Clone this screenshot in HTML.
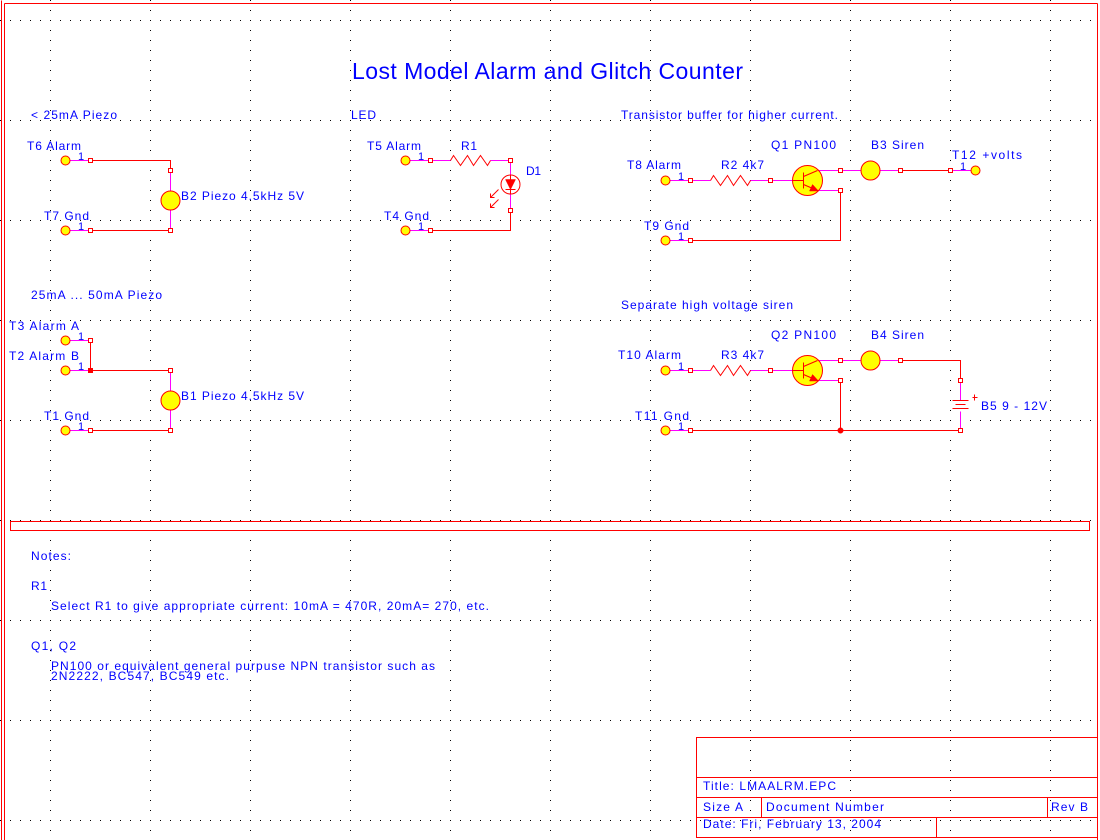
<!DOCTYPE html>
<html>
<head>
<meta charset="utf-8">
<style>
html,body{margin:0;padding:0;background:#fff;width:1100px;height:840px;overflow:hidden}
svg{display:block}
text{font-family:"Liberation Sans",Arial,sans-serif;font-size:12px;fill:#0000ff}
</style>
</head>
<body>
<svg width="1100" height="840" viewBox="0 0 1100 840" xmlns="http://www.w3.org/2000/svg">
<defs>
<pattern id="pr" width="10" height="100" patternUnits="userSpaceOnUse"><rect x="0" y="20" width="1" height="1" fill="#000"/></pattern>
<pattern id="pc" width="100" height="10" patternUnits="userSpaceOnUse"><rect x="50" y="0" width="1" height="1" fill="#000"/></pattern>
</defs>
<rect x="0" y="0" width="1100" height="840" fill="#fff"/>
<rect x="0" y="0" width="1100" height="840" fill="url(#pr)" shape-rendering="crispEdges"/>
<rect x="0" y="0" width="1100" height="840" fill="url(#pc)" shape-rendering="crispEdges"/>

<g transform="translate(0.5,0.5)" fill="none" stroke-width="1">
<!-- border -->
<g stroke="#ff0000" shape-rendering="crispEdges">
<line x1="1" y1="0" x2="1" y2="840"/>
<line x1="4" y1="3" x2="4" y2="840"/>
<line x1="4" y1="3" x2="1097" y2="3"/>
<line x1="1097" y1="3" x2="1097" y2="840"/>
<!-- separator -->
<rect x="10" y="521" width="1079" height="9"/>
<!-- title block -->
<rect x="696" y="737" width="401" height="100"/>
<line x1="696" y1="777" x2="1097" y2="777"/>
<line x1="696" y1="797" x2="1097" y2="797"/>
<line x1="696" y1="817" x2="1097" y2="817"/>
<line x1="761" y1="797" x2="761" y2="817"/>
<line x1="1047" y1="797" x2="1047" y2="817"/>
<line x1="936" y1="817" x2="936" y2="837"/>
</g>

<!-- ============ Section 1 ============ -->
<g shape-rendering="crispEdges">
<line x1="65" y1="160" x2="90" y2="160" stroke="#ff00ff"/>
<path d="M90,160 H170 V170" stroke="#ff0000"/>
<line x1="170" y1="170" x2="170" y2="230" stroke="#ff00ff"/>
<path d="M170,230 H90" stroke="#ff0000"/>
<line x1="65" y1="230" x2="90" y2="230" stroke="#ff00ff"/>
<g stroke="#ff0000" fill="#fff">
<rect x="88" y="158" width="4" height="4"/>
<rect x="168" y="168" width="4" height="4"/>
<rect x="168" y="228" width="4" height="4"/>
<rect x="88" y="228" width="4" height="4"/>
</g>
</g>
<circle cx="170" cy="200" r="9.5" fill="#ffff00" stroke="#ff0000"/>
<circle cx="65" cy="160" r="4.5" fill="#ffff00" stroke="#ff0000"/>
<circle cx="65" cy="230" r="4.5" fill="#ffff00" stroke="#ff0000"/>

<!-- ============ Section 2 LED ============ -->
<g shape-rendering="crispEdges">
<line x1="405" y1="160" x2="450" y2="160" stroke="#ff00ff"/>
<line x1="490" y1="160" x2="510" y2="160" stroke="#ff00ff"/>
<line x1="510" y1="160" x2="510" y2="210" stroke="#ff00ff"/>
<path d="M510,210 V230 H430" stroke="#ff0000"/>
<line x1="405" y1="230" x2="430" y2="230" stroke="#ff00ff"/>
</g>
<polyline points="450,160 453,155 460,165 467,155 473,165 480,155 487,165 490,160" stroke="#ff0000"/>
<circle cx="510" cy="184" r="9.5" fill="#fff" stroke="#ff0000"/>
<line x1="510" y1="174" x2="510" y2="194" stroke="#ff0000"/>
<polygon points="505,179 515,179 510,189" fill="#ff0000" stroke="#ff0000" stroke-width="0.5"/>
<line x1="505" y1="189" x2="515" y2="189" stroke="#ff0000"/>
<g stroke="#ff0000">
<line x1="498" y1="189" x2="490" y2="197"/>
<polyline points="490,193 490,197 494,197"/>
<line x1="498" y1="199" x2="490" y2="207"/>
<polyline points="490,203 490,207 494,207"/>
</g>
<g stroke="#ff0000" fill="#fff" shape-rendering="crispEdges">
<rect x="428" y="158" width="4" height="4"/>
<rect x="508" y="158" width="4" height="4"/>
<rect x="508" y="208" width="4" height="4"/>
<rect x="428" y="228" width="4" height="4"/>
</g>
<circle cx="405" cy="160" r="4.5" fill="#ffff00" stroke="#ff0000"/>
<circle cx="405" cy="230" r="4.5" fill="#ffff00" stroke="#ff0000"/>

<!-- ============ Section 3 Transistor buffer ============ -->
<g shape-rendering="crispEdges">
<line x1="665" y1="180" x2="710" y2="180" stroke="#ff00ff"/>
<line x1="750" y1="180" x2="792" y2="180" stroke="#ff00ff"/>
<line x1="817" y1="170" x2="900" y2="170" stroke="#ff00ff"/>
<line x1="817" y1="190" x2="840" y2="190" stroke="#ff00ff"/>
<line x1="900" y1="170" x2="950" y2="170" stroke="#ff0000"/>
<line x1="950" y1="170" x2="975" y2="170" stroke="#ff00ff"/>
<path d="M840,190 V240 H690" stroke="#ff0000"/>
<line x1="665" y1="240" x2="690" y2="240" stroke="#ff00ff"/>
</g>
<polyline points="710,180 713,175 720,185 727,175 733,185 740,175 747,185 750,180" stroke="#ff0000"/>
<circle cx="807" cy="180" r="15" fill="#ffff00" stroke="#ff0000"/>
<g stroke="#ff0000">
<line x1="792" y1="180" x2="803" y2="180"/>
<line x1="803" y1="172" x2="803" y2="188"/>
<line x1="803" y1="176" x2="817" y2="170"/>
<line x1="803" y1="184" x2="817" y2="190"/>
</g>
<polygon points="818,190.5 809,190.5 812,184" fill="#ff0000" stroke="#ff0000" stroke-width="0.5"/>
<circle cx="870" cy="170" r="9.5" fill="#ffff00" stroke="#ff0000"/>
<g stroke="#ff0000" fill="#fff" shape-rendering="crispEdges">
<rect x="688" y="178" width="4" height="4"/>
<rect x="768" y="178" width="4" height="4"/>
<rect x="838" y="168" width="4" height="4"/>
<rect x="838" y="188" width="4" height="4"/>
<rect x="898" y="168" width="4" height="4"/>
<rect x="948" y="168" width="4" height="4"/>
<rect x="688" y="238" width="4" height="4"/>
</g>
<circle cx="665" cy="180" r="4.5" fill="#ffff00" stroke="#ff0000"/>
<circle cx="975" cy="170" r="4.5" fill="#ffff00" stroke="#ff0000"/>
<circle cx="665" cy="240" r="4.5" fill="#ffff00" stroke="#ff0000"/>

<!-- ============ Section 4 ============ -->
<g shape-rendering="crispEdges">
<line x1="65" y1="340" x2="90" y2="340" stroke="#ff00ff"/>
<line x1="65" y1="370" x2="90" y2="370" stroke="#ff00ff"/>
<line x1="90" y1="340" x2="90" y2="370" stroke="#ff0000"/>
<path d="M90,370 H170" stroke="#ff0000"/>
<line x1="170" y1="370" x2="170" y2="430" stroke="#ff00ff"/>
<path d="M170,430 H90" stroke="#ff0000"/>
<line x1="65" y1="430" x2="90" y2="430" stroke="#ff00ff"/>
<g stroke="#ff0000" fill="#fff">
<rect x="88" y="338" width="4" height="4"/>
<rect x="88" y="368" width="4" height="4" fill="#ff0000"/>
<rect x="168" y="368" width="4" height="4"/>
<rect x="168" y="428" width="4" height="4"/>
<rect x="88" y="428" width="4" height="4"/>
</g>
</g>
<circle cx="170" cy="400" r="9.5" fill="#ffff00" stroke="#ff0000"/>
<circle cx="65" cy="340" r="4.5" fill="#ffff00" stroke="#ff0000"/>
<circle cx="65" cy="370" r="4.5" fill="#ffff00" stroke="#ff0000"/>
<circle cx="65" cy="430" r="4.5" fill="#ffff00" stroke="#ff0000"/>

<!-- ============ Section 5 ============ -->
<g shape-rendering="crispEdges">
<line x1="665" y1="370" x2="710" y2="370" stroke="#ff00ff"/>
<line x1="750" y1="370" x2="792" y2="370" stroke="#ff00ff"/>
<line x1="817" y1="360" x2="900" y2="360" stroke="#ff00ff"/>
<line x1="817" y1="380" x2="840" y2="380" stroke="#ff00ff"/>
<path d="M900,360 H960 V380" stroke="#ff0000"/>
<line x1="960" y1="380" x2="960" y2="400" stroke="#ff00ff"/>
<line x1="952" y1="400" x2="968" y2="400" stroke="#ff0000"/>
<line x1="955" y1="404" x2="965" y2="404" stroke="#ff0000"/>
<line x1="952" y1="408" x2="968" y2="408" stroke="#ff0000"/>
<line x1="960" y1="411" x2="960" y2="430" stroke="#ff00ff"/>
<line x1="972" y1="397" x2="977" y2="397" stroke="#ff0000"/>
<line x1="974" y1="394" x2="974" y2="400" stroke="#ff0000"/>
<path d="M840,380 V430" stroke="#ff0000"/>
<path d="M690,430 H960" stroke="#ff0000"/>
<line x1="665" y1="430" x2="690" y2="430" stroke="#ff00ff"/>
</g>
<polyline points="710,370 713,365 720,375 727,365 733,375 740,365 747,375 750,370" stroke="#ff0000"/>
<circle cx="807" cy="370" r="15" fill="#ffff00" stroke="#ff0000"/>
<g stroke="#ff0000">
<line x1="792" y1="370" x2="803" y2="370"/>
<line x1="803" y1="362" x2="803" y2="378"/>
<line x1="803" y1="366" x2="817" y2="360"/>
<line x1="803" y1="374" x2="817" y2="380"/>
</g>
<polygon points="818,380.5 809,380.5 812,374" fill="#ff0000" stroke="#ff0000" stroke-width="0.5"/>
<circle cx="870" cy="360" r="9.5" fill="#ffff00" stroke="#ff0000"/>
<circle cx="840" cy="430" r="2.5" fill="#ff0000" stroke="#ff0000"/>
<g stroke="#ff0000" fill="#fff" shape-rendering="crispEdges">
<rect x="688" y="368" width="4" height="4"/>
<rect x="768" y="368" width="4" height="4"/>
<rect x="838" y="358" width="4" height="4"/>
<rect x="838" y="378" width="4" height="4"/>
<rect x="898" y="358" width="4" height="4"/>
<rect x="958" y="378" width="4" height="4"/>
<rect x="958" y="428" width="4" height="4"/>
<rect x="688" y="428" width="4" height="4"/>
</g>
<circle cx="665" cy="370" r="4.5" fill="#ffff00" stroke="#ff0000"/>
<circle cx="665" cy="430" r="4.5" fill="#ffff00" stroke="#ff0000"/>
</g>

<!-- ============ Text ============ -->
<text x="352" y="79" style="font-size:23px" textLength="391">Lost Model Alarm and Glitch Counter</text>

<text x="31" y="119" textLength="86">&lt; 25mA Piezo</text>
<text x="27" y="150" textLength="54">T6 Alarm</text>
<text x="78" y="160" style="font-size:11px">1</text>
<text x="181" y="200" textLength="123">B2 Piezo 4.5kHz 5V</text>
<text x="44" y="220" textLength="45">T7 Gnd</text>
<text x="78" y="230" style="font-size:11px">1</text>

<text x="351" y="119" textLength="25">LED</text>
<text x="367" y="150" textLength="54">T5 Alarm</text>
<text x="418" y="160" style="font-size:11px">1</text>
<text x="461" y="150" textLength="16">R1</text>
<text x="526" y="175" textLength="15">D1</text>
<text x="384" y="220" textLength="45">T4 Gnd</text>
<text x="418" y="230" style="font-size:11px">1</text>

<text x="621" y="119" textLength="217">Transistor buffer for higher current.</text>
<text x="627" y="169" textLength="54">T8 Alarm</text>
<text x="678" y="180" style="font-size:11px">1</text>
<text x="721" y="169" textLength="43">R2 4k7</text>
<text x="771" y="149" textLength="65">Q1 PN100</text>
<text x="871" y="149" textLength="53">B3 Siren</text>
<text x="952" y="159" textLength="70">T12 +volts</text>
<text x="960" y="170" style="font-size:11px">1</text>
<text x="644" y="230" textLength="45">T9 Gnd</text>
<text x="678" y="240" style="font-size:11px">1</text>

<text x="31" y="299" textLength="131">25mA ... 50mA Piezo</text>
<text x="9" y="330" textLength="70">T3 Alarm A</text>
<text x="78" y="340" style="font-size:11px">1</text>
<text x="9" y="360" textLength="70">T2 Alarm B</text>
<text x="78" y="370" style="font-size:11px">1</text>
<text x="181" y="400" textLength="123">B1 Piezo 4.5kHz 5V</text>
<text x="44" y="420" textLength="45">T1 Gnd</text>
<text x="78" y="430" style="font-size:11px">1</text>

<text x="621" y="309" textLength="172">Separate high voltage siren</text>
<text x="771" y="339" textLength="65">Q2 PN100</text>
<text x="871" y="339" textLength="53">B4 Siren</text>
<text x="618" y="359" textLength="63">T10 Alarm</text>
<text x="678" y="370" style="font-size:11px">1</text>
<text x="721" y="359" textLength="43">R3 4k7</text>
<text x="981" y="410" textLength="66">B5 9 - 12V</text>
<text x="635" y="420" textLength="54">T11 Gnd</text>
<text x="678" y="430" style="font-size:11px">1</text>

<text x="31" y="560" textLength="40">Notes:</text>
<text x="31" y="590" textLength="16">R1</text>
<text x="51" y="610" textLength="438">Select R1 to give appropriate current: 10mA = 470R, 20mA= 270, etc.</text>
<text x="31" y="650" textLength="45">Q1, Q2</text>
<text x="51" y="670" textLength="384">PN100 or equivalent general purpuse NPN transistor such as</text>
<text x="51" y="680" textLength="178">2N2222, BC547, BC549 etc.</text>

<text x="703" y="790" textLength="133">Title: LMAALRM.EPC</text>
<text x="703" y="811" textLength="40">Size A</text>
<text x="766" y="811" textLength="118">Document Number</text>
<text x="1051" y="811" textLength="37">Rev B</text>
<text x="703" y="828" textLength="178">Date: Fri, February 13, 2004</text>
</svg>
</body>
</html>
